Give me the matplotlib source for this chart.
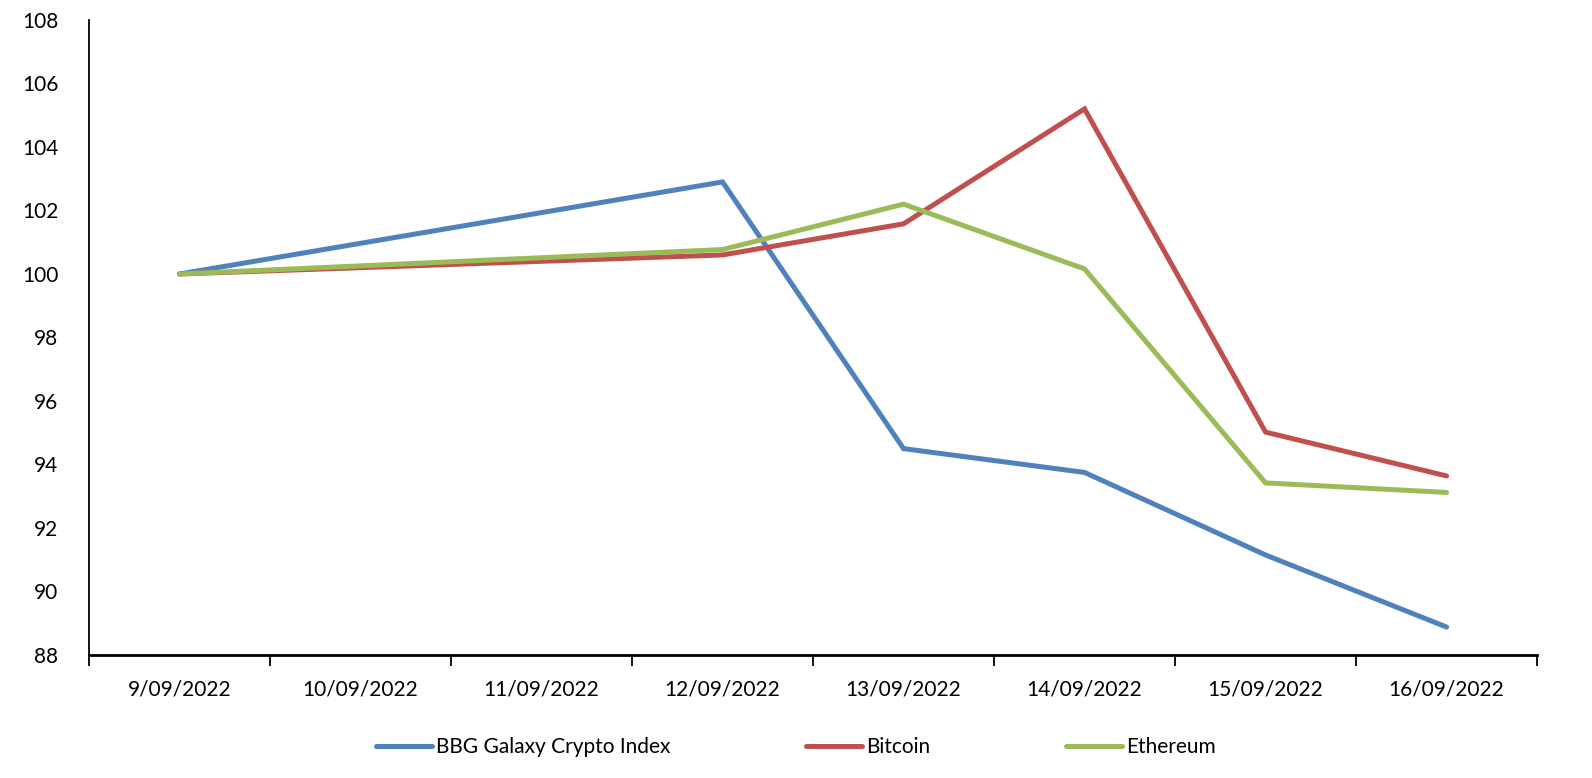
import numpy as np
import matplotlib.pyplot as plt

# data (10/09 and 11/09 are blank - weekend, line bridges over them)
dates = ['9/09/2022', '10/09/2022', '11/09/2022', '12/09/2022',
         '13/09/2022', '14/09/2022', '15/09/2022', '16/09/2022']
bbg_galaxy = [100.0, None, None, 102.9, 94.5, 93.75, 91.15, 88.88]
bitcoin = [100.0, None, None, 100.6, 101.58, 105.2, 95.02, 93.64]
ethereum = [100.0, None, None, 100.77, 102.2, 100.16, 93.42, 93.12]

series_names = ['BBG Galaxy Crypto Index', 'Bitcoin', 'Ethereum']
colors = ['#4F81BD', '#C0504D', '#9BBB59']

plt.rcParams['font.family'] = ['Lato', 'DejaVu Sans']
plt.rcParams['font.size'] = 15

fig = plt.figure(figsize=(15.92, 7.78), dpi=100)
ax = fig.add_axes([0.0559, 0.1581, 0.9655 - 0.0559, 0.9743 - 0.1581])

x = np.arange(len(dates))
for vals, name, c in zip([bbg_galaxy, bitcoin, ethereum], series_names, colors):
    v = np.array([np.nan if a is None else a for a in vals], dtype=float)
    ok = ~np.isnan(v)
    ax.plot(x[ok], v[ok], color=c, lw=3.6, label=name, solid_capstyle='round',
            solid_joinstyle='miter')

ax.set_xlim(-0.5, len(dates) - 0.5)
ax.set_ylim(88, 108)
ax.set_yticks(np.arange(88, 109, 2))
ax.set_xticks(x)
ax.set_xticklabels(dates)
ax.set_xticks(np.arange(-0.5, len(dates), 1), minor=True)
ax.tick_params(axis='x', which='major', length=0, pad=18)
ax.tick_params(axis='x', which='minor', length=8, width=1.3, direction='out')
ax.tick_params(axis='y', length=0, pad=22)

for s in ['top', 'right']:
    ax.spines[s].set_visible(False)
ax.spines['left'].set_linewidth(1.3)
ax.spines['bottom'].set_linewidth(2)

fig.legend(loc='center', bbox_to_anchor=(0.5, 0.04), ncol=3, frameon=False,
           handlelength=2.7, handletextpad=0.2, columnspacing=6.5)

plt.savefig('out.png', dpi=100)
